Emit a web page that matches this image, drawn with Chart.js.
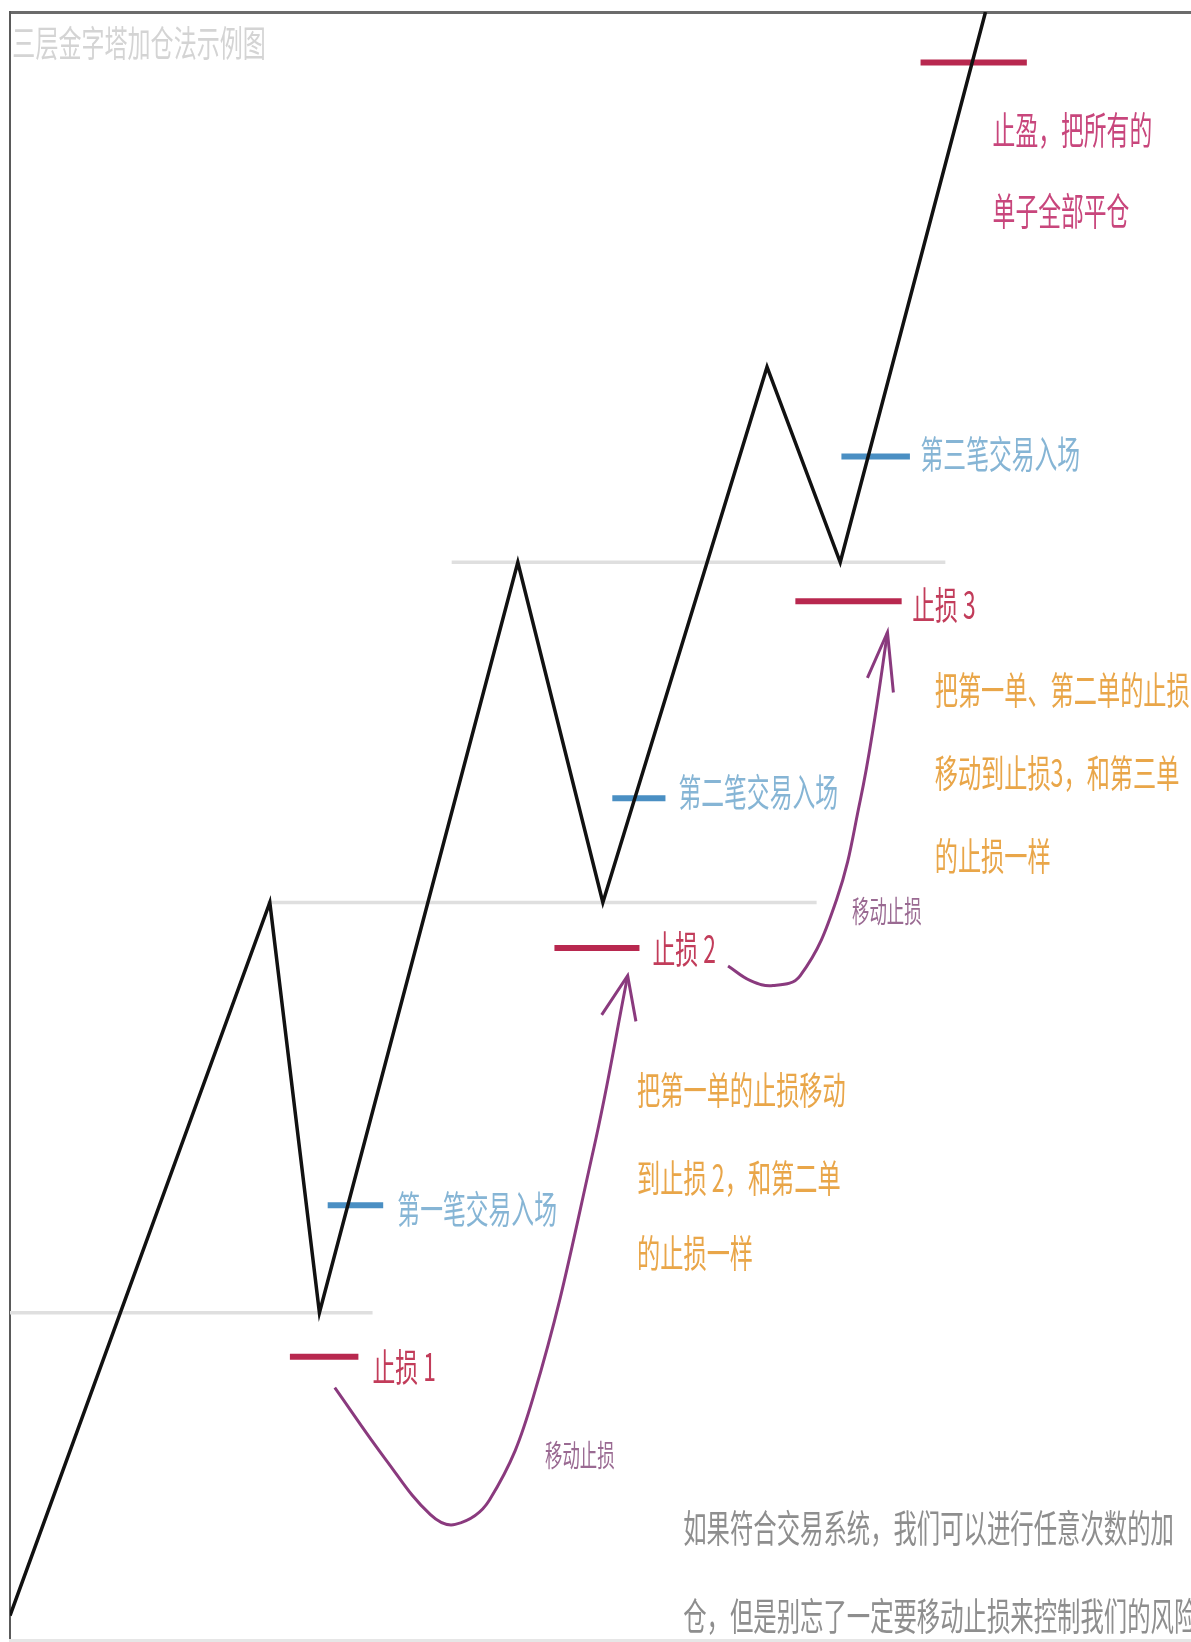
<!DOCTYPE html>
<html lang="zh">
<head>
<meta charset="utf-8">
<title>三层金字塔加仓法示例图</title>
<script src="https://cdn.jsdelivr.net/npm/chart.js@4.4.1/dist/chart.umd.min.js"></script>
<style>
  html, body { margin: 0; padding: 0; background: #fff; }
  #wrap { width: 1191px; height: 1642px; }
</style>
</head>
<body>
<div id="wrap"><canvas id="chart" width="1191" height="1642"></canvas></div>
<script>
// price path: time (x) and price (y), both 0..100
const pathX = [0, 22.0, 26.2, 43.0, 50.2, 64.1, 70.3, 82.6];
const pathY = [1.5, 45.3, 20.1, 66.2, 45.3, 78.2, 66.2, 100];

// old highs that become support
const levelY = [20.1, 45.3, 66.2];
const levelFrom = [0, 21.8, 37.4];
const levelTo = [30.7, 68.3, 79.2];

// stops 1-3 and take profit (red), entries 1-3 (blue)
const stopY = [17.4, 42.5, 63.8, 96.9];
const stopFrom = [23.7, 46.1, 66.5, 77.1];
const stopTo = [29.5, 53.3, 75.5, 86.1];
const entryY = [26.7, 51.7, 72.7];
const entryFrom = [26.9, 51.0, 70.4];
const entryTo = [31.6, 55.5, 76.2];

// "move the stop" arrows
const arrow1X = [27.5, 31.8, 35.6, 37.7, 40.6, 44.3, 49.4, 52.3];
const arrow1Y = [15.5, 11.1, 7.7, 7.1, 8.6, 14.9, 30.1, 40.8];
const head1X = [50.1, 52.3, 53.0];
const head1Y = [38.4, 40.8, 38.0];
const arrow2X = [60.8, 62.7, 64.6, 66.9, 70.0, 72.0, 73.2, 74.3];
const arrow2Y = [41.4, 40.5, 40.2, 40.8, 45.5, 51.6, 56.5, 61.9];
const head2X = [72.6, 74.3, 74.8];
const head2Y = [59.1, 61.9, 58.2];

// text notes
const labelText = [
  '三层金字塔加仓法示例图',
  '止盈，把所有的', '单子全部平仓',
  '第三笔交易入场', '止损 3',
  '把第一单、第二单的止损', '移动到止损3，和第三单', '的止损一样',
  '移动止损',
  '第二笔交易入场', '止损 2',
  '把第一单的止损移动', '到止损 2，和第二单', '的止损一样',
  '第一笔交易入场', '止损 1',
  '移动止损',
  '如果符合交易系统，我们可以进行任意次数的加', '仓，但是别忘了一定要移动止损来控制我们的风险'
];
const labelX = [0.2, 83.2, 83.2, 77.1, 76.4, 78.3, 78.3, 78.3, 71.3, 56.6, 54.4,
  53.1, 53.1, 53.1, 32.8, 30.7, 45.3, 57.0, 57.0];
const labelY = [98.1, 92.8, 87.8, 72.9, 63.6, 58.4, 53.3, 48.2, 44.8, 52.1, 42.5,
  33.8, 28.4, 23.8, 26.5, 16.8, 11.4, 6.9, 1.5];
const labelKind = ['title', 'tp', 'tp', 'entry', 'stop', 'note', 'note', 'note', 'move',
  'entry', 'stop', 'note', 'note', 'note', 'entry', 'stop', 'move', 'foot', 'foot'];

const labelStyle = {
  title: { color: '#d4d4d4', size: 36, sx: 0.64 },
  tp: { color: '#c8467c', size: 38, sx: 0.6 },
  entry: { color: '#86b5d5', size: 38, sx: 0.6 },
  stop: { color: '#c23c5a', size: 38, sx: 0.6 },
  note: { color: '#e9a649', size: 38, sx: 0.61 },
  move: { color: '#9a6a92', size: 30, sx: 0.58 },
  foot: { color: '#8e8e8e', size: 38, sx: 0.615 }
};

function pts(xs, ys) {
  return xs.map((v, i) => ({ x: v, y: ys[i] }));
}

function dash(from, to, y) {
  return [{ x: from, y: y }, { x: to, y: y }];
}

const datasets = [];
datasets.push({ data: pts(pathX, pathY), borderColor: '#111', borderWidth: 3.5 });
stopY.forEach((v, i) => datasets.push({ data: dash(stopFrom[i], stopTo[i], v), borderColor: '#b8284f', borderWidth: 6 }));
entryY.forEach((v, i) => datasets.push({ data: dash(entryFrom[i], entryTo[i], v), borderColor: '#4a8fc3', borderWidth: 6 }));
datasets.push({ data: pts(arrow1X, arrow1Y), borderColor: '#8a3a7e', borderWidth: 3, tension: 0.4 });
datasets.push({ data: pts(head1X, head1Y), borderColor: '#8a3a7e', borderWidth: 3 });
datasets.push({ data: pts(arrow2X, arrow2Y), borderColor: '#8a3a7e', borderWidth: 3, tension: 0.4 });
datasets.push({ data: pts(head2X, head2Y), borderColor: '#8a3a7e', borderWidth: 3 });
levelY.forEach((v, i) => datasets.push({ data: dash(levelFrom[i], levelTo[i], v), borderColor: '#dfdfdf', borderWidth: 3.5 }));

const labelPlugin = {
  id: 'labels',
  afterDatasetsDraw(chart) {
    const { ctx, scales: { x, y } } = chart;
    labelText.forEach((t, i) => {
      const st = labelStyle[labelKind[i]];
      ctx.save();
      ctx.translate(x.getPixelForValue(labelX[i]), y.getPixelForValue(labelY[i]));
      ctx.scale(st.sx, 1);
      ctx.font = `${st.size}px "Noto Sans CJK SC", sans-serif`;
      ctx.fillStyle = st.color;
      ctx.textBaseline = 'middle';
      ctx.textAlign = 'left';
      ctx.fillText(t, 0, 0);
      ctx.restore();
    });
  }
};

function hiddenAxis(axis, position, color, width) {
  return {
    type: 'linear', axis: axis, position: position, min: 0, max: 100,
    grid: { display: false, drawTicks: false },
    ticks: { display: false },
    border: { display: true, color: color, width: width },
    afterFit: s => { if (axis === 'x') s.height = 0; else s.width = 0; }
  };
}

new Chart(document.getElementById('chart'), {
  type: 'line',
  data: { datasets: datasets },
  options: {
    responsive: false,
    animation: false,
    devicePixelRatio: 1,
    layout: { padding: { left: 10, top: 12, right: 0, bottom: 2 } },
    elements: {
      point: { radius: 0, hoverRadius: 0 },
      line: { tension: 0, fill: false, borderCapStyle: 'butt', borderJoinStyle: 'miter' }
    },
    scales: {
      x: hiddenAxis('x', 'top', '#6b6b6b', 3),
      y: hiddenAxis('y', 'left', '#5a5a5a', 2),
      xb: hiddenAxis('x', 'bottom', '#e6e6e6', 3)
    },
    plugins: { legend: { display: false }, tooltip: { enabled: false } }
  },
  plugins: [labelPlugin]
});
</script>
</body>
</html>
